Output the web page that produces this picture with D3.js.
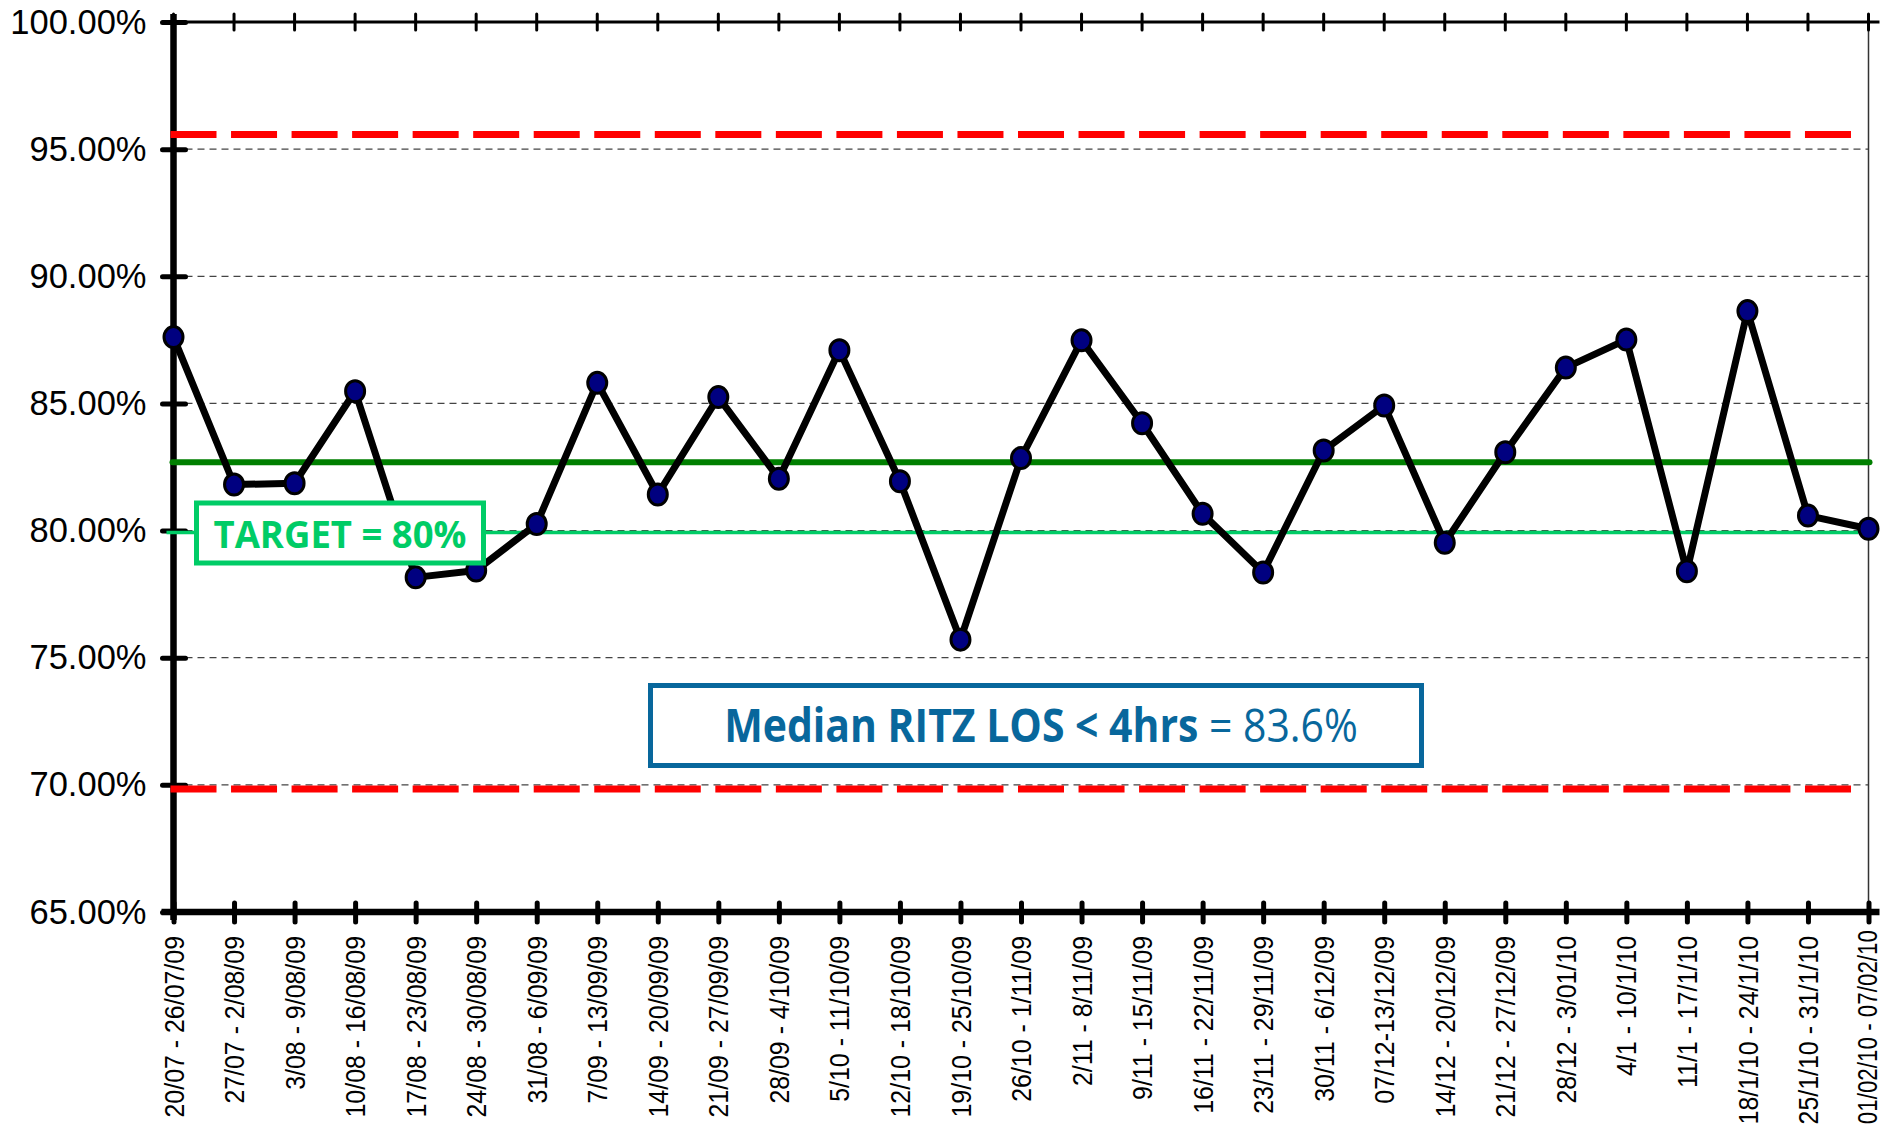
<!DOCTYPE html>
<html>
<head>
<meta charset="utf-8">
<script src="https://cdn.jsdelivr.net/npm/d3@7"></script>
<style>
  html, body { margin: 0; padding: 0; background: #fff; }
  svg { display: block; }
</style>
</head>
<body>
<svg id="chart" width="1890" height="1129"></svg>
<script>
// week labels along the x axis
const weeks = [
  "20/07 - 26/07/09", "27/07 - 2/08/09", "3/08 - 9/08/09", "10/08 - 16/08/09",
  "17/08 - 23/08/09", "24/08 - 30/08/09", "31/08 - 6/09/09", "7/09 - 13/09/09",
  "14/09 - 20/09/09", "21/09 - 27/09/09", "28/09 - 4/10/09", "5/10 - 11/10/09",
  "12/10 - 18/10/09", "19/10 - 25/10/09", "26/10 - 1/11/09", "2/11 - 8/11/09",
  "9/11 - 15/11/09", "16/11 - 22/11/09", "23/11 - 29/11/09", "30/11 - 6/12/09",
  "07/12-13/12/09", "14/12 - 20/12/09", "21/12 - 27/12/09", "28/12 - 3/01/10",
  "4/1 - 10/1/10", "11/1 - 17/1/10", "18/1/10 - 24/1/10", "25/1/10 - 31/1/10",
  "01/02/10 - 07/02/10"
];

// % of patients with RITZ length of stay < 4hrs
const pctUnder4 = [
  87.61, 81.81, 81.86, 85.48, 78.16, 78.43, 80.26, 85.81, 81.42, 85.25,
  82.04, 87.09, 81.94, 75.71, 82.85, 87.48, 84.22, 80.66, 78.35, 83.15,
  84.92, 79.52, 83.08, 86.41, 87.51, 78.40, 88.63, 80.59, 80.07
];

const yTicks = [65, 70, 75, 80, 85, 90, 95, 100];
const gridTicks = [70, 75, 80, 85, 90, 95];
const controlLimits = [95.58, 69.84];   // upper / lower (red dashed)
const centreLine = 82.69;               // green median line
const target = 80;
const targetLabel = "TARGET = 80%";
const medianLabelBold = "Median RITZ LOS < 4hrs";
const medianLabelRest = " = 83.6%";

const svg = d3.select("#chart");

const plotLeft = 173.5, plotRight = 1868.5, plotTop = 22, plotBottom = 912;

const x = d3.scalePoint().domain(weeks).range([plotLeft, plotRight]).padding(0);
const y = d3.scaleLinear().domain([65, 100]).range([plotBottom, plotTop]);
const step = x.step();

// dashed gridlines
svg.append("g")
  .selectAll("line")
  .data(gridTicks)
  .join("line")
  .attr("x1", plotLeft + 12).attr("x2", plotRight)
  .attr("y1", d => y(d)).attr("y2", d => y(d))
  .attr("stroke", "#444").attr("stroke-width", 1.2)
  .attr("stroke-dasharray", "7,5");

// right edge
svg.append("line")
  .attr("x1", plotRight).attr("x2", plotRight).attr("y1", plotTop).attr("y2", plotBottom)
  .attr("stroke", "#333").attr("stroke-width", 1.5);

// top frame with ticks
svg.append("line")
  .attr("x1", plotLeft).attr("x2", plotRight + 11).attr("y1", plotTop).attr("y2", plotTop)
  .attr("stroke", "#000").attr("stroke-width", 3);
svg.append("g")
  .selectAll("line")
  .data(weeks)
  .join("line")
  .attr("x1", d => x(d)).attr("x2", d => x(d))
  .attr("y1", plotTop - 8).attr("y2", plotTop + 8)
  .attr("stroke", "#000").attr("stroke-width", 3).attr("stroke-linecap", "round");

// x axis
const xAxis = svg.append("g")
  .attr("transform", `translate(0,${plotBottom})`)
  .call(d3.axisBottom(x).tickSize(0).tickFormat(""));
xAxis.select(".domain").remove();
xAxis.append("line")
  .attr("x1", plotLeft - 12).attr("x2", plotRight + 11)
  .attr("stroke", "#000").attr("stroke-width", 6.5);
xAxis.selectAll(".tick line")
  .attr("y1", -9).attr("y2", 10)
  .attr("stroke", "#000").attr("stroke-width", 5).attr("stroke-linecap", "round");

// rotated week labels; the last one sits a little higher and is squeezed to fit
const lastWeek = weeks[weeks.length - 1];
svg.append("g")
  .selectAll("text")
  .data(weeks)
  .join("text")
  .attr("transform", d => d === lastWeek
    ? `translate(${x(d) - 2},930) rotate(-90) scale(0.8,1)`
    : `translate(${x(d)},936) rotate(-90) scale(0.89,1)`)
  .attr("text-anchor", "end")
  .attr("dy", "0.36em")
  .attr("font-family", "'Liberation Sans', Arial, sans-serif")
  .attr("font-size", 28)
  .attr("fill", "#000")
  .text(d => d);

// y axis
const yAxis = svg.append("g")
  .attr("transform", `translate(${plotLeft},0)`)
  .call(d3.axisLeft(y).tickValues(yTicks).tickSize(0).tickPadding(27)
    .tickFormat(d => d.toFixed(2) + "%"));
yAxis.select(".domain").remove();
yAxis.append("line")
  .attr("y1", plotTop - 8).attr("y2", plotBottom + 8)
  .attr("stroke", "#000").attr("stroke-width", 6.5);
yAxis.selectAll(".tick line")
  .attr("x1", -11).attr("x2", 12)
  .attr("stroke", "#000").attr("stroke-width", 5).attr("stroke-linecap", "round");
yAxis.selectAll(".tick text")
  .attr("font-family", "'Liberation Sans', Arial, sans-serif")
  .attr("font-size", 34.5)
  .attr("fill", "#000");

// control limits
svg.append("g")
  .selectAll("line")
  .data(controlLimits)
  .join("line")
  .attr("x1", plotLeft - 3).attr("x2", plotRight - 16)
  .attr("y1", d => y(d)).attr("y2", d => y(d))
  .attr("stroke", "#ff0000").attr("stroke-width", 7)
  .attr("stroke-dasharray", `${step * 0.76},${step * 0.24}`);

// median line
svg.append("line")
  .attr("x1", plotLeft - 1).attr("x2", plotRight + 1)
  .attr("y1", y(centreLine)).attr("y2", y(centreLine))
  .attr("stroke", "#007f00").attr("stroke-width", 6).attr("stroke-linecap", "round");

// target line
svg.append("line")
  .attr("x1", plotLeft - 7).attr("x2", plotRight - 10)
  .attr("y1", y(target) + 2).attr("y2", y(target) + 2)
  .attr("stroke", "#00cc66").attr("stroke-width", 3.5);

// data line + markers
const line = d3.line()
  .x((d, i) => x(weeks[i]))
  .y(d => y(d));

svg.append("path")
  .datum(pctUnder4)
  .attr("d", line)
  .attr("fill", "none")
  .attr("stroke", "#000").attr("stroke-width", 7)
  .attr("stroke-linejoin", "round");

svg.append("g")
  .selectAll("ellipse")
  .data(pctUnder4)
  .join("ellipse")
  .attr("cx", (d, i) => x(weeks[i]))
  .attr("cy", d => y(d))
  .attr("rx", 9.5).attr("ry", 10.5)
  .attr("fill", "#000080")
  .attr("stroke", "#000").attr("stroke-width", 3);

// fit a text element horizontally to a given width around its centre
function fitText(sel, cx, width) {
  const w = sel.node().getComputedTextLength();
  sel.attr("transform", `translate(${cx},0) scale(${width / w},1) translate(${-cx},0)`);
}

// target box
const tBox = svg.append("g");
tBox.append("rect")
  .attr("x", 196.5).attr("y", 503).attr("width", 287).attr("height", 60)
  .attr("fill", "#fff").attr("stroke", "#00cc66").attr("stroke-width", 5);
const tText = tBox.append("text")
  .attr("x", 340).attr("y", 548)
  .attr("text-anchor", "middle")
  .attr("font-family", "'Open Sans', 'Noto Sans', sans-serif")
  .attr("font-weight", "bold")
  .attr("font-size", 38)
  .attr("fill", "#00cc66")
  .text(targetLabel);
fitText(tText, 340, 253);

// median box
const mBox = svg.append("g");
mBox.append("rect")
  .attr("x", 650.5).attr("y", 685.5).attr("width", 771).attr("height", 80)
  .attr("fill", "#fff").attr("stroke", "#08679c").attr("stroke-width", 5);
const mText = mBox.append("text")
  .attr("x", 1041).attr("y", 742)
  .attr("text-anchor", "middle")
  .attr("font-family", "'Open Sans', 'Noto Sans', sans-serif")
  .attr("font-size", 46)
  .attr("fill", "#08679c");
mText.append("tspan").attr("font-weight", "bold").text(medianLabelBold);
mText.append("tspan").text(medianLabelRest);
fitText(mText, 1041, 634);
</script>
</body>
</html>
